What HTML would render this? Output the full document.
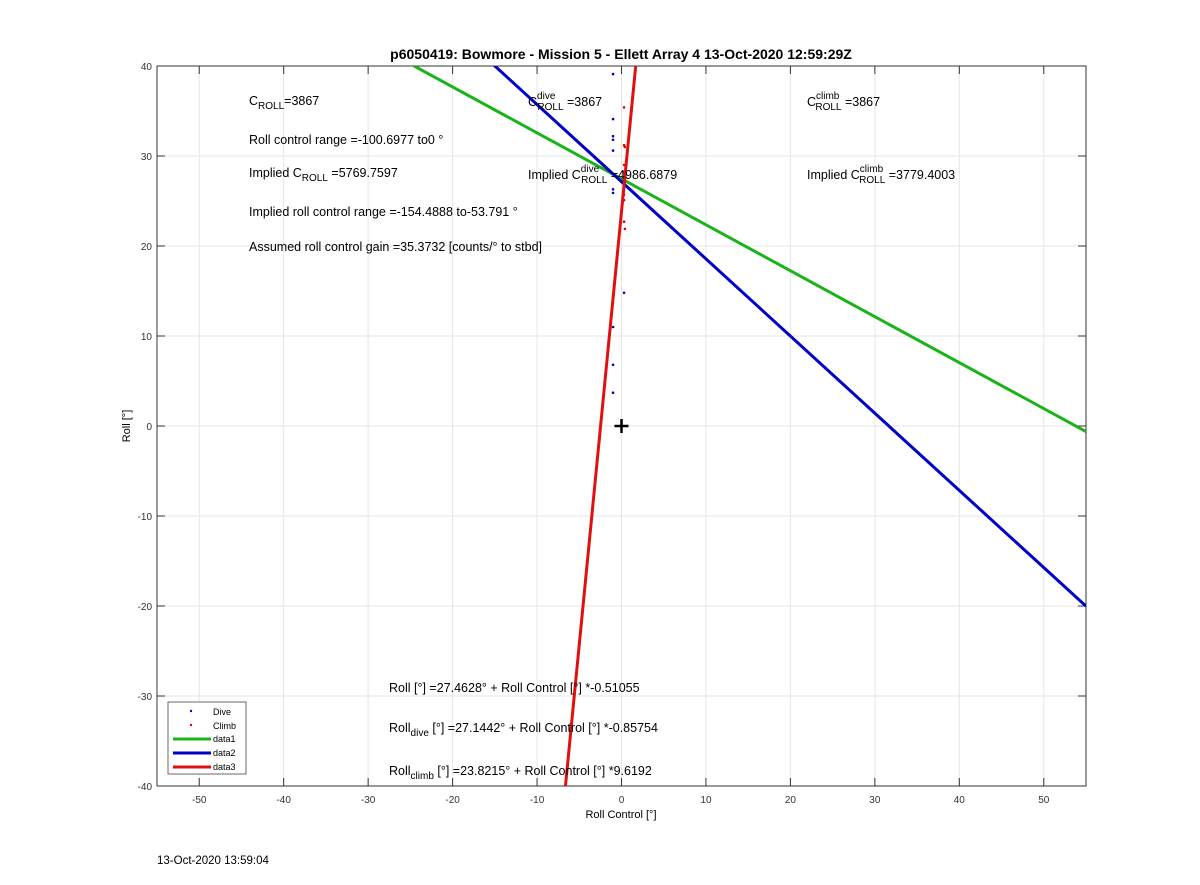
<!DOCTYPE html>
<html><head><meta charset="utf-8"><style>
html,body{margin:0;padding:0;background:#fff;overflow:hidden;width:1200px;height:885px;font-family:"Liberation Sans",sans-serif}
svg{display:block}
svg text{font-family:"Liberation Sans",sans-serif}
</style></head><body>
<svg width="1200" height="885" xmlns="http://www.w3.org/2000/svg">
<rect width="1200" height="885" fill="#fff"/>
<g id="grid"></g>
<g id="axes"></g>
<g id="marks"></g>
<text x="621" y="59" text-anchor="middle" font-size="14" font-weight="bold">p6050419: Bowmore - Mission 5 - Ellett Array 4 13-Oct-2020 12:59:29Z</text>
<text x="621" y="818" text-anchor="middle" font-size="11">Roll Control [°]</text>
<text x="130" y="426" text-anchor="middle" font-size="11" transform="rotate(-90 130 426)">Roll [°]</text>
<g font-size="12.5">
<text x="249" y="105">C<tspan font-size="10" dy="4">ROLL</tspan><tspan dy="-4">=3867</tspan></text>
<text x="528" y="106">C<tspan font-size="10" dy="-7">dive</tspan><tspan font-size="10" dx="-18" dy="11">ROLL</tspan><tspan dy="-4"> =3867</tspan></text>
<text x="807" y="106">C<tspan font-size="10" dy="-7">climb</tspan><tspan font-size="10" dx="-24" dy="11">ROLL</tspan><tspan dy="-4"> =3867</tspan></text>
<text x="249" y="144">Roll control range =-100.6977 to0 °</text>
<text x="249" y="177">Implied C<tspan font-size="10" dy="4">ROLL</tspan><tspan dy="-4"> =5769.7597</tspan></text>
<text x="528" y="179">Implied C<tspan font-size="10" dy="-7">dive</tspan><tspan font-size="10" dx="-18" dy="11">ROLL</tspan><tspan dy="-4"> =4986.6879</tspan></text>
<text x="807" y="179">Implied C<tspan font-size="10" dy="-7">climb</tspan><tspan font-size="10" dx="-24" dy="11">ROLL</tspan><tspan dy="-4"> =3779.4003</tspan></text>
<text x="249" y="216">Implied roll control range =-154.4888 to-53.791 °</text>
<text x="249" y="251">Assumed roll control gain =35.3732 [counts/° to stbd]</text>
<text x="389" y="692">Roll [°] =27.4628° + Roll Control [°] *-0.51055</text>
<text x="389" y="732">Roll<tspan font-size="10" dy="4">dive</tspan><tspan dy="-4"> [°] =27.1442° + Roll Control [°] *-0.85754</tspan></text>
<text x="389" y="775">Roll<tspan font-size="10" dy="4">climb</tspan><tspan dy="-4"> [°] =23.8215° + Roll Control [°] *9.6192</tspan></text>
</g>
<g>
<rect x="168" y="702" width="78" height="72" fill="#fff" stroke="#444" stroke-width="0.8"/>
<circle cx="191" cy="711" r="1.2" fill="#00c"/>
<text x="213" y="715" font-size="9">Dive</text>
<circle cx="191" cy="725" r="1.2" fill="#d00"/>
<text x="213" y="729" font-size="9">Climb</text>
<line x1="173" y1="739" x2="211" y2="739" stroke="#1bb31b" stroke-width="3"/>
<text x="213" y="742" font-size="9">data1</text>
<line x1="173" y1="753" x2="211" y2="753" stroke="#0000c8" stroke-width="3"/>
<text x="213" y="756" font-size="9">data2</text>
<line x1="173" y1="767" x2="211" y2="767" stroke="#e01010" stroke-width="3"/>
<text x="213" y="770" font-size="9">data3</text>
</g>
<text x="157" y="864" font-size="11.5">13-Oct-2020 13:59:04</text>
<script>
const xTicks=[-50,-40,-30,-20,-10,0,10,20,30,40,50];
const yTicks=[-40,-30,-20,-10,0,10,20,30,40];
const fitIntercepts=[27.4628,27.1442,23.8215];
const fitSlopes=[-0.51055,-0.85754,9.6192];
const fitColors=["#1bb31b","#0000c8","#e01010"];
const diveX=[-1,-1,-1,-1,-1,-1,-1,0.3,-1,-1,-1];
const diveY=[39.1,34.1,32.2,31.8,30.6,26.3,25.9,14.8,11,6.8,3.7];
const climbX=[0.3,0.3,0.4,0.3,0.3,0.3,0.3,0.3,0.4];
const climbY=[35.4,31.2,31,29,28.2,25.7,25.1,22.7,21.9];
const X0=157,X1=1086,Y0=66,Y1=786,xmin=-55,xmax=55,ymin=-40,ymax=40;
const sx=v=>X0+(v-xmin)/(xmax-xmin)*(X1-X0);
const sy=v=>Y1-(v-ymin)/(ymax-ymin)*(Y1-Y0);
const NS="http://www.w3.org/2000/svg";
function mk(t,a,p){const e=document.createElementNS(NS,t);for(const k in a)e.setAttribute(k,a[k]);p.appendChild(e);return e;}
const grid=document.getElementById('grid'),axes=document.getElementById('axes'),marks=document.getElementById('marks');
xTicks.forEach(v=>{const x=sx(v);
const g=mk('line',{x1:x,x2:x,y1:Y0,y2:Y1,stroke:'#e6e6e6'},grid);


mk('line',{x1:x,x2:x,y1:Y1,y2:Y1-8,stroke:'#333'},axes);
mk('line',{x1:x,x2:x,y1:Y0,y2:Y0+8,stroke:'#333'},axes);
const t=mk('text',{x:x,y:Y1+17,'text-anchor':'middle','font-size':10,fill:'#333'},axes);t.textContent=v;

});
yTicks.forEach(v=>{const y=sy(v);
const g=mk('line',{x1:X0,x2:X1,y1:y,y2:y,stroke:'#e6e6e6'},grid);


mk('line',{x1:X0,x2:X0+8,y1:y,y2:y,stroke:'#333'},axes);
mk('line',{x1:X1,x2:X1-8,y1:y,y2:y,stroke:'#333'},axes);
const t=mk('text',{x:X0-5,y:y+4,'text-anchor':'end','font-size':10,fill:'#333'},axes);t.textContent=v;

});
mk('rect',{x:X0,y:Y0,width:X1-X0,height:Y1-Y0,fill:'none',stroke:'#333'},axes);
mk('clipPath',{id:'cp'},marks);
mk('rect',{x:X0,y:Y0,width:X1-X0,height:Y1-Y0},document.getElementById('cp'));
diveX.forEach((v,i)=>{const c=mk('circle',{cx:sx(v),cy:sy(diveY[i]),r:1.3,fill:'#00c'},marks);

});
climbX.forEach((v,i)=>{const c=mk('circle',{cx:sx(v),cy:sy(climbY[i]),r:1.3,fill:'#d00'},marks);

});
const names=['fit-line-data1','fit-line-data2','fit-line-data3'];
fitSlopes.forEach((m,i)=>{const b=fitIntercepts[i];
const l=mk('line',{x1:sx(xmin),y1:sy(b+m*xmin),x2:sx(xmax),y2:sy(b+m*xmax),stroke:fitColors[i],'stroke-width':3,'clip-path':'url(#cp)'},marks);

});
const p=mk('path',{d:`M${sx(0)-7},${sy(0)}h14M${sx(0)},${sy(0)-7}v14`,stroke:'#000','stroke-width':2.5},marks);


</script>
</svg>
</body></html>
